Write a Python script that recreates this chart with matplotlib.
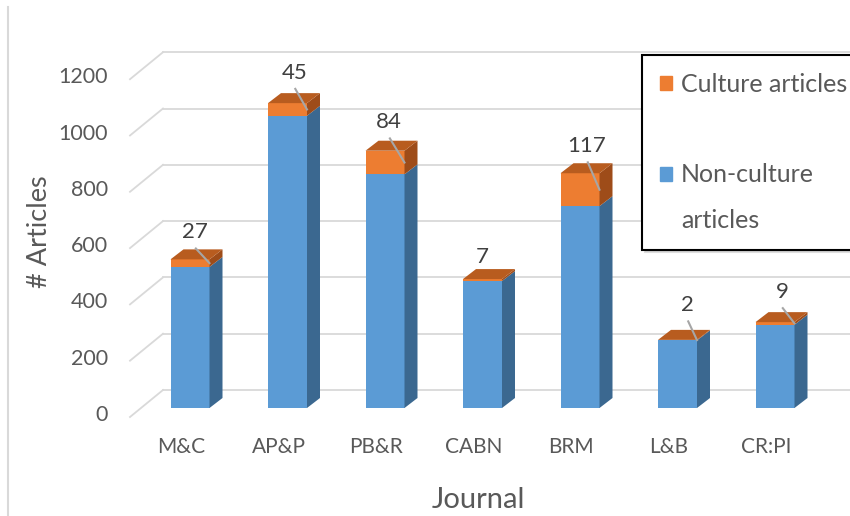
import numpy as np
from matplotlib import pyplot as plt
from matplotlib.patches import Polygon, Patch

journals = ['M&C', 'AP&P', 'PB&R', 'CABN', 'BRM', 'L&B', 'CR:PI']
non_culture = [501, 1038, 830, 451, 717, 240, 296]
culture = [27, 45, 84, 7, 117, 2, 9]
yticks = [0, 200, 400, 600, 800, 1000, 1200]

blue, blue_side = '#5B9BD5', '#3B6890'
orange, orange_side, orange_top = '#ED7D31', '#9E4C19', '#B85C1F'
grid_c = '#D9D9D9'
txt_c = '#595959'

plt.rcParams['font.family'] = ['Lato', 'DejaVu Sans']

W, H = 850, 516
fig = plt.figure(figsize=(W / 100, H / 100), dpi=100)
ax = fig.add_axes([0, 0, 1, 1])
# pixel layout: bar front centre 190px, 97.5px per journal, zero at 408px, 0.2815px per article
px_x, px_v = 97.5, 0.2815
ax.set_xlim(-190 / px_x, (W - 190) / px_x)
ax.set_ylim(-(H - 408) / px_v, 408 / px_v)
ax.axis('off')

x = np.arange(len(journals))
nc = np.array(non_culture)
cu = np.array(culture)
tot = nc + cu
bw = 39 / px_x
ddx, ddv = 13 / px_x, 10 / px_v          # bar depth
back_dv = 18 / px_v                      # back wall behind bar front
front_dv = -9 / px_v                     # floor front edge
wall_front, wall_back = -60 / px_x, -27 / px_x
right_end = (W - 190) / px_x

# gridlines: left wall diagonals + back wall
for v in yticks:
    ax.plot([wall_front, wall_back], [v + front_dv, v + back_dv], color=grid_c, lw=1.3, zorder=1)
    ax.plot([wall_back, right_end], [v + back_dv, v + back_dv], color=grid_c, lw=1.3, zorder=1)
    ax.text(-82 / px_x, v + front_dv + 2 / px_v, str(v), ha='right', va='center',
            fontsize=15.5, color=txt_c)

# bars
ax.bar(x, nc, bw, color=blue, zorder=3)
ax.bar(x, cu, bw, bottom=nc, color=orange, zorder=3)
for xi, n, t in zip(x, nc, tot):
    r = xi + bw / 2
    l = xi - bw / 2
    ax.add_patch(Polygon([(r, 0), (r + ddx, ddv), (r + ddx, n + ddv), (r, n)],
                         closed=True, color=blue_side, zorder=3, lw=0))
    ax.add_patch(Polygon([(r, n), (r + ddx, n + ddv), (r + ddx, t + ddv), (r, t)],
                         closed=True, color=orange_side, zorder=3, lw=0))
    ax.add_patch(Polygon([(l, t), (r, t), (r + ddx, t + ddv), (l + ddx, t + ddv)],
                         closed=True, color=orange_top, zorder=3, lw=0))

# data labels with leader lines
lab_dx = [0.05, 0.07, 0.04, 0.0, 0.07, 0.1, 0.07]
lab_dv = [60, 72, 65, 42, 60, 87, 71]
leader = [True, True, True, False, True, True, True]
for xi, n, c, t, dx, dv, ld in zip(x, nc, cu, tot, lab_dx, lab_dv, leader):
    tx, tv = xi + dx, t + dv
    ax.text(tx, tv, str(c), ha='center', va='bottom', fontsize=16, color='#404040', zorder=5)
    if ld:
        ax.plot([tx + 0.01, xi + bw / 2], [tv - 6 / px_v, n + c / 2], color='#A6A6A6',
                lw=1.5, zorder=4)

# category labels and axis titles
for xi, name in zip(x, journals):
    ax.text(xi - 9 / px_x, -39 / px_v, name, ha='center', va='center', fontsize=15, color=txt_c)
ax.text(288 / px_x, -92 / px_v, 'Journal', ha='center', va='center', fontsize=21, color=txt_c)
ax.text(-150 / px_x, 176 / px_v, '# Articles', ha='center', va='center', rotation=90,
        fontsize=19.5, color=txt_c)

# chart left border
ax.plot([-182 / px_x, -182 / px_x], [401 / px_v, -(H - 408) / px_v], color=grid_c, lw=1.5)

handles = [Patch(color=orange), Patch(color='none'), Patch(color=blue), Patch(color='none')]
labels = ['Culture articles', ' ', 'Non-culture', 'articles']
leg = ax.legend(handles, labels, loc='upper left', bbox_to_anchor=(642 / W, 1 - 55 / H),
                bbox_transform=fig.transFigure, fontsize=18, labelcolor=txt_c,
                handlelength=0.5, handleheight=0.5, handletextpad=0.35,
                labelspacing=0.9, borderpad=0.7, borderaxespad=0, fancybox=False,
                edgecolor='black', shadow={'color': '0.75', 'alpha': 0.5})
leg.get_frame().set_linewidth(1.5)
leg.set_zorder(6)

fig.savefig('out.png', dpi=100)
